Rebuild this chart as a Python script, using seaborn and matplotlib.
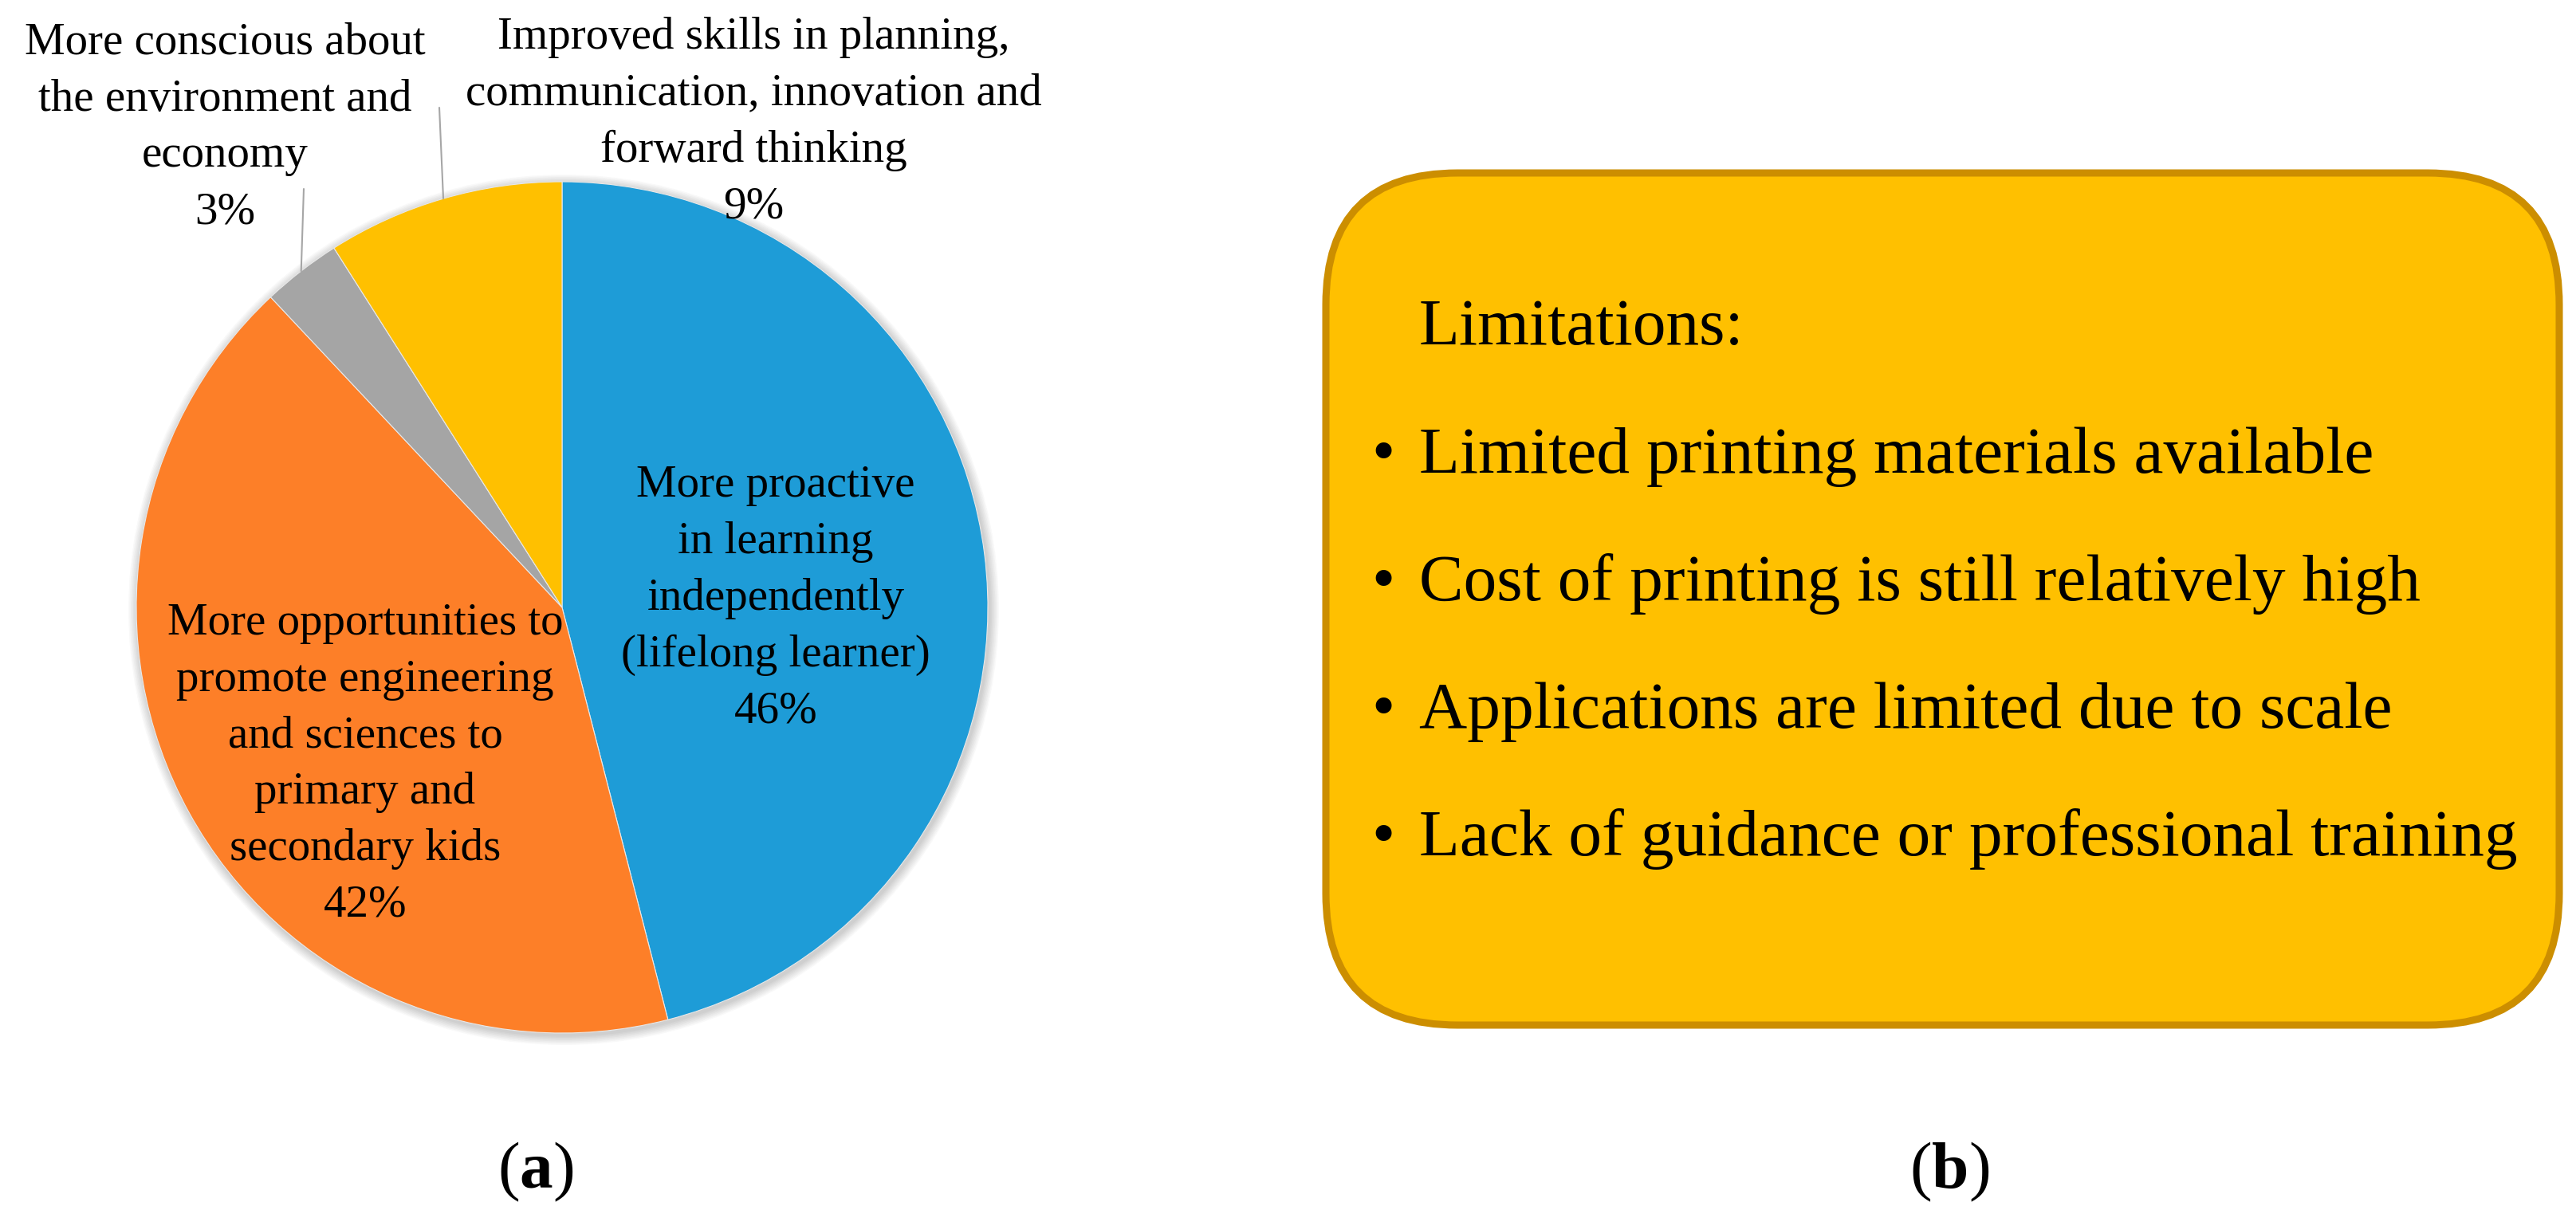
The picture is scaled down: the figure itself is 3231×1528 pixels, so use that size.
import numpy as np
import matplotlib
matplotlib.use("Agg")
import matplotlib.pyplot as plt
from matplotlib.patches import FancyBboxPatch, Circle
import seaborn as sns

# data
categories = [
    "More proactive\nin learning\nindependently\n(lifelong learner)",
    "More opportunities to\npromote engineering\nand sciences to\nprimary and\nsecondary kids",
    "More conscious about\nthe environment and\neconomy",
    "Improved skills in planning,\ncommunication, innovation and\nforward thinking",
]
shares = [46, 42, 3, 9]
slice_colors = ["#1E9CD7", "#FD7F28", "#A5A5A5", "#FFC000"]
limits_title = "Limitations:"
limitations = [
    "Limited printing materials available",
    "Cost of printing is still relatively high",
    "Applications are limited due to scale",
    "Lack of guidance or professional training",
]
panel_tags = ["a", "b"]

sns.set_theme(style="white")
plt.rcParams["font.family"] = ["Liberation Serif", "DejaVu Serif"]
plt.rcParams["text.color"] = "black"
plt.rcParams["mathtext.fontset"] = "custom"
plt.rcParams["mathtext.rm"] = "Liberation Serif"
plt.rcParams["mathtext.bf"] = "Liberation Serif:bold"

W, H = 3231, 1528
fig = plt.figure(figsize=(W / 100, H / 100), dpi=100)
ax = fig.add_axes([0, 0, 1, 1])


def Y(y_img):
    return H - y_img


# ---- (a) pie ----
cx, cy, R = 705, Y(762), 534
# soft shadow around the pie
for k in range(1, 9):
    ax.add_patch(Circle((cx + 2, cy - 3), R + k * 1.5, facecolor="#000000",
                        alpha=0.025, edgecolor="none", zorder=0))
wedges, _ = ax.pie(shares, colors=sns.color_palette(slice_colors), startangle=90,
                   counterclock=False, center=(cx, cy), radius=R,
                   wedgeprops=dict(linewidth=0.8, edgecolor="#E8E8E8"))

lab_fs = 41
pos_inside = {0: (973, 751), 1: (458, 959)}
for i, (x, y) in pos_inside.items():
    ax.text(x, Y(y), f"{categories[i]}\n{shares[i]}%", ha="center", va="center",
            fontsize=lab_fs, linespacing=1.47)

# outside labels with leader lines
pos_outside = {2: (282, 160, (381, 237)), 3: (945, 153, (551, 135))}
for i, (x, y, end) in pos_outside.items():
    ax.text(x, Y(y), f"{categories[i]}\n{shares[i]}%", ha="center", va="center",
            fontsize=lab_fs, linespacing=1.47)
    w = wedges[i]
    mid = np.deg2rad((w.theta1 + w.theta2) / 2)
    px, py = cx + R * np.cos(mid), cy + R * np.sin(mid)
    ax.plot([px, end[0]], [py, Y(end[1])], color="#A6A6A6", lw=1.5, zorder=1)

# ---- (b) rounded box ----
box = FancyBboxPatch((1663, Y(1286)), 1547, 1069,
                     boxstyle="round,pad=0,rounding_size=165",
                     facecolor="#FFC000", edgecolor="#CC8E00", linewidth=6.5)
ax.add_patch(box)

box_fs = 60
ax.text(1780, Y(432), limits_title, ha="left", va="baseline", fontsize=box_fs)
for k, item in enumerate(limitations):
    yb = Y(593 + k * 160)
    ax.text(1735, yb, "\u2022", ha="center", va="baseline", fontsize=box_fs)
    ax.text(1780, yb, item, ha="left", va="baseline", fontsize=box_fs)

# panel tags
for tag, x in zip(panel_tags, [672, 2445]):
    ax.text(x, Y(1470), r"($\mathbf{" + tag + r"}$)", ha="center", va="center",
            fontsize=60)

ax.set_xlim(0, W)
ax.set_ylim(0, H)
ax.set_aspect("equal")
ax.axis("off")

fig.savefig("out.png", dpi=100, facecolor="white")
